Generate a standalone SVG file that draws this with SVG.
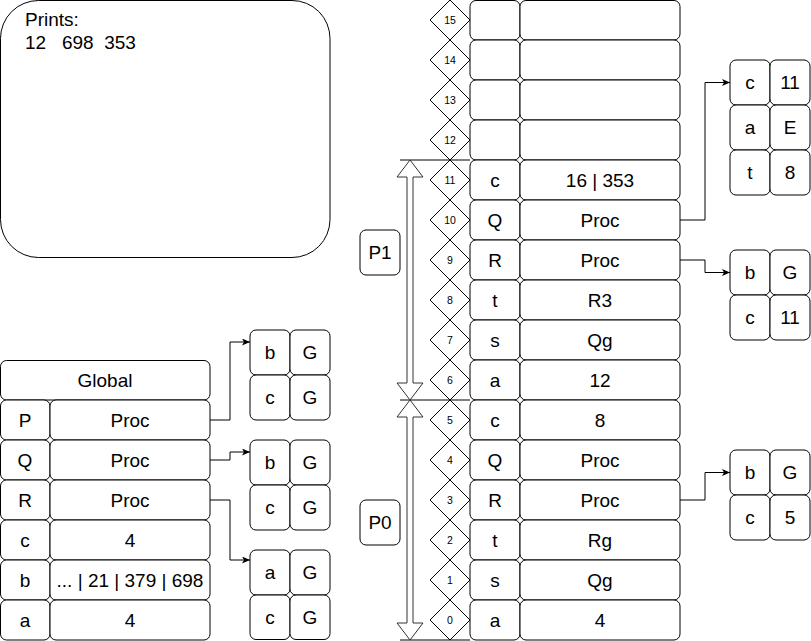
<svg xmlns="http://www.w3.org/2000/svg" width="811" height="641" viewBox="0 0 811 641">
<style>
.c{fill:#fff;stroke:#000;stroke-width:1}
.t{font-family:"Liberation Sans",Arial,sans-serif;font-size:19px;fill:#000;text-anchor:middle}
.n{font-family:"Liberation Sans",Arial,sans-serif;font-size:10.5px;fill:#000;text-anchor:middle}
.d{fill:#fff;stroke:#000;stroke-width:1}
.e{fill:none;stroke:#000;stroke-width:1}
.fa{fill:#fff;stroke:#333;stroke-width:1}
</style>
<defs>
<marker id="ah" viewBox="0 0 8 7" refX="8" refY="3.5" markerWidth="8" markerHeight="7" markerUnits="userSpaceOnUse" orient="auto">
<path d="M0,0 L8,3.5 L0,7 L2,3.5 Z" fill="#000"/>
</marker>
</defs>
<rect width="811" height="641" fill="#fff"/>

<g id="prints">
<rect class="c" x="0.5" y="0.5" width="329.5" height="257" rx="38" ry="38"/>
<text class="t" style="text-anchor:start" x="25" y="26">Prints:</text>
<text class="t" style="text-anchor:start" x="25" y="49" xml:space="preserve">12   698  353</text>
</g>

<g id="global">
<rect class="c" x="0.5" y="360.5" width="209.5" height="39.5" rx="6"/>
<text class="t" x="105" y="387">Global</text>
<g id="global-P"><rect class="c" x="0.5" y="400" width="49.5" height="40" rx="6"/><rect class="c" x="50" y="400" width="160" height="40" rx="6"/><text class="t" x="25" y="427">P</text><text class="t" x="130" y="427">Proc</text></g>
<g id="global-Q"><rect class="c" x="0.5" y="440" width="49.5" height="40" rx="6"/><rect class="c" x="50" y="440" width="160" height="40" rx="6"/><text class="t" x="25" y="467">Q</text><text class="t" x="130" y="467">Proc</text></g>
<g id="global-R"><rect class="c" x="0.5" y="480" width="49.5" height="40" rx="6"/><rect class="c" x="50" y="480" width="160" height="40" rx="6"/><text class="t" x="25" y="507">R</text><text class="t" x="130" y="507">Proc</text></g>
<g id="global-c"><rect class="c" x="0.5" y="520" width="49.5" height="40" rx="6"/><rect class="c" x="50" y="520" width="160" height="40" rx="6"/><text class="t" x="25" y="547">c</text><text class="t" x="130" y="547">4</text></g>
<g id="global-b"><rect class="c" x="0.5" y="560" width="49.5" height="40" rx="6"/><rect class="c" x="50" y="560" width="160" height="40" rx="6"/><text class="t" x="25" y="587">b</text><text class="t" x="130" y="587">... | 21 | 379 | 698</text></g>
<g id="global-a"><rect class="c" x="0.5" y="600" width="49.5" height="40" rx="6"/><rect class="c" x="50" y="600" width="160" height="40" rx="6"/><text class="t" x="25" y="627">a</text><text class="t" x="130" y="627">4</text></g>
</g>

<g id="envP">
<rect class="c" x="250" y="330" width="40" height="45" rx="6"/><rect class="c" x="290" y="330" width="40" height="45" rx="6"/>
<rect class="c" x="250" y="375" width="40" height="45" rx="6"/><rect class="c" x="290" y="375" width="40" height="45" rx="6"/>
<text class="t" x="270" y="359">b</text><text class="t" x="310" y="359">G</text>
<text class="t" x="270" y="404">c</text><text class="t" x="310" y="404">G</text>
</g>
<g id="envQ">
<rect class="c" x="250" y="440" width="40" height="45" rx="6"/><rect class="c" x="290" y="440" width="40" height="45" rx="6"/>
<rect class="c" x="250" y="485" width="40" height="45" rx="6"/><rect class="c" x="290" y="485" width="40" height="45" rx="6"/>
<text class="t" x="270" y="469">b</text><text class="t" x="310" y="469">G</text>
<text class="t" x="270" y="514">c</text><text class="t" x="310" y="514">G</text>
</g>
<g id="envR">
<rect class="c" x="250" y="550" width="40" height="45" rx="6"/><rect class="c" x="290" y="550" width="40" height="45" rx="6"/>
<rect class="c" x="250" y="595" width="40" height="44.5" rx="6"/><rect class="c" x="290" y="595" width="40" height="44.5" rx="6"/>
<text class="t" x="270" y="579">a</text><text class="t" x="310" y="579">G</text>
<text class="t" x="270" y="624">c</text><text class="t" x="310" y="624">G</text>
</g>

<g id="frameQ">
<rect class="c" x="730" y="60" width="40" height="45" rx="6"/><rect class="c" x="770" y="60" width="40" height="45" rx="6"/>
<rect class="c" x="730" y="105" width="40" height="45" rx="6"/><rect class="c" x="770" y="105" width="40" height="45" rx="6"/>
<rect class="c" x="730" y="150" width="40" height="45" rx="6"/><rect class="c" x="770" y="150" width="40" height="45" rx="6"/>
<text class="t" x="750" y="89">c</text><text class="t" x="790" y="89">11</text>
<text class="t" x="750" y="134">a</text><text class="t" x="790" y="134">E</text>
<text class="t" x="750" y="179">t</text><text class="t" x="790" y="179">8</text>
</g>
<g id="frameR1">
<rect class="c" x="730" y="250" width="40" height="45" rx="6"/><rect class="c" x="770" y="250" width="40" height="45" rx="6"/>
<rect class="c" x="730" y="295" width="40" height="45" rx="6"/><rect class="c" x="770" y="295" width="40" height="45" rx="6"/>
<text class="t" x="750" y="279">b</text><text class="t" x="790" y="279">G</text>
<text class="t" x="750" y="324">c</text><text class="t" x="790" y="324">11</text>
</g>
<g id="frameR0">
<rect class="c" x="730" y="450" width="40" height="45" rx="6"/><rect class="c" x="770" y="450" width="40" height="45" rx="6"/>
<rect class="c" x="730" y="495" width="40" height="45" rx="6"/><rect class="c" x="770" y="495" width="40" height="45" rx="6"/>
<text class="t" x="750" y="479">b</text><text class="t" x="790" y="479">G</text>
<text class="t" x="750" y="524">c</text><text class="t" x="790" y="524">5</text>
</g>

<g id="labels">
<g id="P1"><rect class="c" x="360" y="230" width="40" height="45" rx="6"/><text class="t" x="380" y="259">P1</text></g>
<g id="P0"><rect class="c" x="360" y="500" width="40" height="45" rx="6"/><text class="t" x="380" y="529">P0</text></g>
</g>

<g id="indices">
<polygon class="d" points="450,0 470,20 450,40 430,20"/><text class="n" x="450" y="24">15</text>
<polygon class="d" points="450,40 470,60 450,80 430,60"/><text class="n" x="450" y="64">14</text>
<polygon class="d" points="450,80 470,100 450,120 430,100"/><text class="n" x="450" y="104">13</text>
<polygon class="d" points="450,120 470,140 450,160 430,140"/><text class="n" x="450" y="144">12</text>
<polygon class="d" points="450,160 470,180 450,200 430,180"/><text class="n" x="450" y="184">11</text>
<polygon class="d" points="450,200 470,220 450,240 430,220"/><text class="n" x="450" y="224">10</text>
<polygon class="d" points="450,240 470,260 450,280 430,260"/><text class="n" x="450" y="264">9</text>
<polygon class="d" points="450,280 470,300 450,320 430,300"/><text class="n" x="450" y="304">8</text>
<polygon class="d" points="450,320 470,340 450,360 430,340"/><text class="n" x="450" y="344">7</text>
<polygon class="d" points="450,360 470,380 450,400 430,380"/><text class="n" x="450" y="384">6</text>
<polygon class="d" points="450,400 470,420 450,440 430,420"/><text class="n" x="450" y="424">5</text>
<polygon class="d" points="450,440 470,460 450,480 430,460"/><text class="n" x="450" y="464">4</text>
<polygon class="d" points="450,480 470,500 450,520 430,500"/><text class="n" x="450" y="504">3</text>
<polygon class="d" points="450,520 470,540 450,560 430,540"/><text class="n" x="450" y="544">2</text>
<polygon class="d" points="450,560 470,580 450,600 430,580"/><text class="n" x="450" y="584">1</text>
<polygon class="d" points="450,600 470,620 450,640 430,620"/><text class="n" x="450" y="624">0</text>
</g>

<g id="stack">
<g id="row15"><rect class="c" x="470" y="0.5" width="50" height="39.5" rx="6"/><rect class="c" x="520" y="0.5" width="160" height="39.5" rx="6"/></g>
<g id="row14"><rect class="c" x="470" y="40" width="50" height="40" rx="6"/><rect class="c" x="520" y="40" width="160" height="40" rx="6"/></g>
<g id="row13"><rect class="c" x="470" y="80" width="50" height="40" rx="6"/><rect class="c" x="520" y="80" width="160" height="40" rx="6"/></g>
<g id="row12"><rect class="c" x="470" y="120" width="50" height="40" rx="6"/><rect class="c" x="520" y="120" width="160" height="40" rx="6"/></g>
<g id="row11"><rect class="c" x="470" y="160" width="50" height="40" rx="6"/><rect class="c" x="520" y="160" width="160" height="40" rx="6"/><text class="t" x="495" y="187">c</text><text class="t" x="600" y="187">16 | 353</text></g>
<g id="row10"><rect class="c" x="470" y="200" width="50" height="40" rx="6"/><rect class="c" x="520" y="200" width="160" height="40" rx="6"/><text class="t" x="495" y="227">Q</text><text class="t" x="600" y="227">Proc</text></g>
<g id="row9"><rect class="c" x="470" y="240" width="50" height="40" rx="6"/><rect class="c" x="520" y="240" width="160" height="40" rx="6"/><text class="t" x="495" y="267">R</text><text class="t" x="600" y="267">Proc</text></g>
<g id="row8"><rect class="c" x="470" y="280" width="50" height="40" rx="6"/><rect class="c" x="520" y="280" width="160" height="40" rx="6"/><text class="t" x="495" y="307">t</text><text class="t" x="600" y="307">R3</text></g>
<g id="row7"><rect class="c" x="470" y="320" width="50" height="40" rx="6"/><rect class="c" x="520" y="320" width="160" height="40" rx="6"/><text class="t" x="495" y="347">s</text><text class="t" x="600" y="347">Qg</text></g>
<g id="row6"><rect class="c" x="470" y="360" width="50" height="40" rx="6"/><rect class="c" x="520" y="360" width="160" height="40" rx="6"/><text class="t" x="495" y="387">a</text><text class="t" x="600" y="387">12</text></g>
<g id="row5"><rect class="c" x="470" y="400" width="50" height="40" rx="6"/><rect class="c" x="520" y="400" width="160" height="40" rx="6"/><text class="t" x="495" y="427">c</text><text class="t" x="600" y="427">8</text></g>
<g id="row4"><rect class="c" x="470" y="440" width="50" height="40" rx="6"/><rect class="c" x="520" y="440" width="160" height="40" rx="6"/><text class="t" x="495" y="467">Q</text><text class="t" x="600" y="467">Proc</text></g>
<g id="row3"><rect class="c" x="470" y="480" width="50" height="40" rx="6"/><rect class="c" x="520" y="480" width="160" height="40" rx="6"/><text class="t" x="495" y="507">R</text><text class="t" x="600" y="507">Proc</text></g>
<g id="row2"><rect class="c" x="470" y="520" width="50" height="40" rx="6"/><rect class="c" x="520" y="520" width="160" height="40" rx="6"/><text class="t" x="495" y="547">t</text><text class="t" x="600" y="547">Rg</text></g>
<g id="row1"><rect class="c" x="470" y="560" width="50" height="40" rx="6"/><rect class="c" x="520" y="560" width="160" height="40" rx="6"/><text class="t" x="495" y="587">s</text><text class="t" x="600" y="587">Qg</text></g>
<g id="row0"><rect class="c" x="470" y="600" width="50" height="40" rx="6"/><rect class="c" x="520" y="600" width="160" height="40" rx="6"/><text class="t" x="495" y="627">a</text><text class="t" x="600" y="627">4</text></g>
</g>

<g id="connectors">
<path class="e" d="M210,420 H230 V342 H250" marker-end="url(#ah)"/>
<path class="e" d="M210,460 H230 V452 H250" marker-end="url(#ah)"/>
<path class="e" d="M210,500 H230 V560 H250" marker-end="url(#ah)"/>
<path class="e" d="M680,220 H705 V82.5 H730" marker-end="url(#ah)"/>
<path class="e" d="M680,260 H705 V272.5 H730" marker-end="url(#ah)"/>
<path class="e" d="M680,500 H705 V472.5 H730" marker-end="url(#ah)"/>
<path class="e" d="M400,160 H470 M400,400 H470 M400,640 H470"/>
<path class="fa" d="M410,160 L423,177 L413,177 L413,383 L423,383 L410,400 L397,383 L407,383 L407,177 L397,177 Z"/>
<path class="fa" d="M410,400 L423,417 L413,417 L413,623 L423,623 L410,640 L397,623 L407,623 L407,417 L397,417 Z"/>
</g>
</svg>
